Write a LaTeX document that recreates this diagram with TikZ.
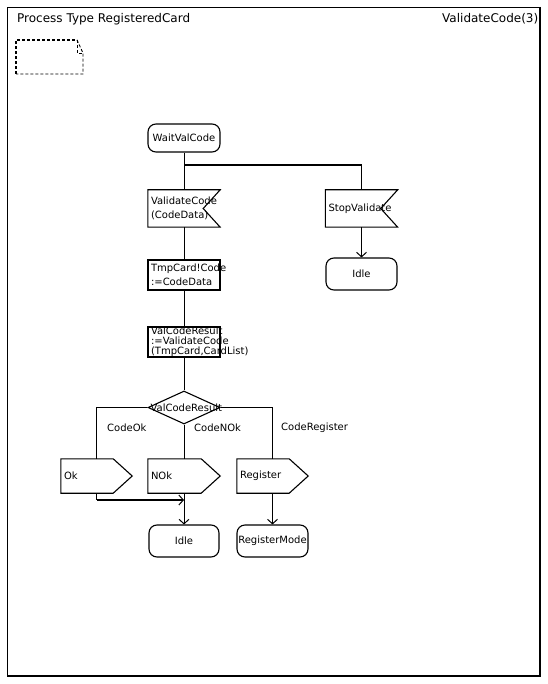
\documentclass[tikz,border=0pt]{standalone}
\usepackage{fontspec}
\setmainfont{DejaVu Sans}
\usetikzlibrary{arrows.meta,shapes.geometric}
\hyphenpenalty=10000
\exhyphenpenalty=10000
\newcommand\nfont{\fontsize{10}{12}\selectfont}
\newcommand\widefont{\fontsize{10}{13.5}\selectfont}
\newcommand\tightfont{\fontsize{10}{10}\selectfont}
\newcommand\drawinsig[1]{\draw[shapeline] (#1.north west) -- (#1.north east) -- ([xshift=-17pt]#1.east) -- (#1.south east) -- (#1.south west) -- cycle;}
\newcommand\drawoutsig[1]{\draw[shapeline] (#1.north west) -- ([xshift=-19pt]#1.north east) -- (#1.east) -- ([xshift=-19pt]#1.south east) -- (#1.south west) -- cycle;}
\tikzset{
  shapeline/.style={line width=1.1pt, line join=miter},
  lbl/.style={inner sep=0pt, font=\nfont},
  statebox/.style={draw, line width=1.1pt, rounded corners=8pt, minimum width=72pt, minimum height=28pt, inner xsep=1pt, inner ysep=0pt, font=\nfont},
  taskbox/.style={draw, line width=1.1pt, text width=66pt, inner xsep=3pt, inner ysep=0pt, minimum height=30pt, align=left, font=\nfont},
  sigbox/.style={text width=66pt, inner xsep=3pt, inner ysep=0pt, minimum height=37pt, align=left, font=\nfont},
  decbox/.style={diamond, draw, line width=1.1pt, minimum width=72pt, minimum height=33pt, inner sep=0pt},
  conn/.style={line width=0.8pt},
  thickconn/.style={line width=1.6pt},
  arrowtip/.style={-{Straight Barb[length=4.5pt,width=10pt,line width=1pt]}},
  notedash/.style={dash pattern=on 3pt off 2pt}
}
\begin{document}
\begin{tikzpicture}[x=1pt,y=-1pt]
\useasboundingbox (0,0) rectangle (547,684);
\fill[white] (0,0) rectangle (547,684);

% header
\node[anchor=west, inner sep=0pt, font=\fontsize{12}{14}\selectfont] (title) at (17,19) {Process Type RegisteredCard};
\node[anchor=west, inner sep=0pt, font=\fontsize{12}{14}\selectfont] (page) at (442,19) {ValidateCode(3)};

% frame
\draw[line width=0.8pt] (7,676) -- (7,7) -- (540,7);
\draw[line width=2.2pt] (540,7) -- (540,676) -- (6.6,676);

% text symbol (dashed note)
\draw[notedash, line width=1.3pt] (16,74) -- (16,40) -- (77,40);
\draw[notedash, line width=0.9pt] (77,40) -- (83,53) -- (83,74) -- (16,74);
\draw[notedash, line width=0.9pt] (77,40) -- (77,53) -- (83,53);

% nodes
\node[statebox] (wait) at (184,138) {WaitValCode};
\node[sigbox, font=\widefont] (vc) at (184,208.5) {ValidateCode\\(CodeData)};
\drawinsig{vc}
\node[sigbox] (sv) at (361.5,208.5) {StopValidate};
\drawinsig{sv}
\node[statebox, minimum width=71pt, minimum height=32pt] (idlea) at (361.5,274) {Idle};
\node[taskbox, font=\widefont] (ta) at (184,275) {TmpCard!Code\\:=CodeData};
\node[taskbox, font=\tightfont] (tb) at (184,342) {ValCodeResult\\:=ValidateCode\\(TmpCard,CardList)};
\node[decbox] (dec) at (184,407.5) {};
\node[lbl, anchor=west] (dect) at ([xshift=3pt]dec.west) {ValCodeResult};

\node[sigbox, text width=65pt, minimum height=34pt] (ok) at (96.5,476) {Ok};
\drawoutsig{ok}
\node[sigbox, minimum height=34pt] (nok) at (184,476) {NOk};
\drawoutsig{nok}
\node[sigbox, text width=65pt, minimum height=34pt] (reg) at (272.5,476) {Register};
\drawoutsig{reg}
\node[statebox, minimum width=70pt, minimum height=32pt] (idleb) at (184,541) {Idle};
\node[statebox, minimum width=71pt, minimum height=32pt] (regmode) at (272.5,541) {RegisterMode};

% branch labels
\node[lbl, anchor=west] (lok) at (107,428) {CodeOk};
\node[lbl, anchor=west] (lnok) at (194,428) {CodeNOk};
\node[lbl, anchor=west] (lreg) at (281,428) {CodeRegister};

% connectors
\coordinate (ba) at (184,165);
\coordinate (bb) at (sv.north |- ba);
\draw[conn] (wait.south) -- (vc.north);
\draw[thickconn] (ba) -- (bb);
\draw[conn] (bb) -- (sv.north);
\draw[conn, arrowtip] (sv.south) -- (idlea.north);
\draw[conn] (vc.south) -- (ta.north);
\draw[conn] (ta.south) -- (tb.north);
\draw[conn] (tb.south) -- (dec.north);
\draw[conn] (dec.west) -- (dec.west -| ok.north) -- (ok.north);
\draw[thickconn] (dec.east) -- (dec.east -| reg.north);
\draw[conn] (dec.east -| reg.north) -- (reg.north);
\draw[conn] (dec.south) -- (nok.north);
\coordinate (okj) at (ok.south |- 0,500);
\draw[conn] (ok.south) -- (okj);
\draw[thickconn, arrowtip] (okj) -- (okj -| nok.south);
\draw[conn, arrowtip] (nok.south) -- (idleb.north);
\draw[conn, arrowtip] (reg.south) -- (regmode.north);
\end{tikzpicture}
\end{document}
